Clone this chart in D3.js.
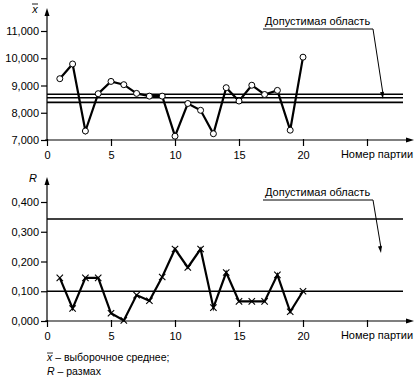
<!DOCTYPE html>
<html>
<head>
<meta charset="utf-8">
<script src="https://cdn.jsdelivr.net/npm/d3@7"></script>
<style>
  body { margin: 0; background: #fff; }
  svg { display: block; font-family: "Liberation Sans", Arial, sans-serif; }
</style>
</head>
<body>
<div id="chart"></div>
<script>
// batch numbers
const batches = [1, 2, 3, 4, 5, 6, 7, 8, 9, 10, 11, 12, 13, 14, 15, 16, 17, 18, 19, 20];
// sample means (x-bar)
const xbarValues = [9.25, 9.79, 7.33, 8.70, 9.15, 9.03, 8.71, 8.61, 8.61, 7.14,
                    8.34, 8.09, 7.23, 8.92, 8.43, 9.01, 8.67, 8.82, 7.36, 10.04];
// ranges (R)
const rangeValues = [0.145, 0.042, 0.145, 0.145, 0.026, 0.002, 0.087, 0.068, 0.148, 0.242,
                     0.180, 0.242, 0.045, 0.163, 0.066, 0.066, 0.066, 0.155, 0.031, 0.100];
const xbarLimits = [8.68, 8.55, 8.38];
const rangeLimits = [0.343, 0.100];
const xbarTicks = [7, 8, 9, 10, 11];
const rangeTicks = [0, 0.1, 0.2, 0.3, 0.4];
const batchTicks = [0, 5, 10, 15, 20, 25];
const batchLabels = ['0', '5', '10', '15', '20', ''];
const xTitle = 'Номер партии';
const zoneLabel = 'Допустимая область';

const W = 420, H = 384;
const fmt = v => d3.format('.3f')(v).replace('.', ',');

const svg = d3.select('#chart').append('svg')
  .attr('width', W).attr('height', H);

const x = d3.scaleLinear().domain([0, 25]).range([47, 367]);

function drawPanel(opt) {
  const g = svg.append('g');
  const y = d3.scaleLinear().domain(opt.domain).range(opt.range);
  const y0 = y(opt.domain[0]);

  // control lines
  g.selectAll('.lim').data(opt.limits).enter().append('line')
    .attr('x1', x(0)).attr('x2', 403)
    .attr('y1', d => y(d)).attr('y2', d => y(d))
    .attr('stroke', '#000').attr('stroke-width', 1.6);

  // y axis
  const ya = g.append('g').attr('transform', `translate(${x(0)},0)`)
    .call(d3.axisLeft(y).tickValues(opt.ticks).tickFormat(fmt).tickSize(6).tickPadding(2));
  ya.select('.domain').remove();
  ya.selectAll('line').attr('stroke-width', 1.2);
  ya.selectAll('text').attr('font-size', 11).attr('fill', '#000')
    .attr('font-family', '"Liberation Sans", Arial, sans-serif');
  g.append('line').attr('x1', x(0)).attr('x2', x(0))
    .attr('y1', y0).attr('y2', opt.top + 5)
    .attr('stroke', '#000').attr('stroke-width', 1.2);
  g.append('path')
    .attr('d', `M${x(0)},${opt.top} L${x(0) - 2.5},${opt.top + 8} L${x(0) + 2.5},${opt.top + 8} Z`)
    .attr('fill', '#000');

  // x axis
  const xa = g.append('g').attr('transform', `translate(0,${y0})`)
    .call(d3.axisBottom(x).tickValues(batchTicks)
      .tickFormat((d, i) => batchLabels[i]).tickSize(6).tickPadding(5));
  xa.select('.domain').remove();
  xa.selectAll('line').attr('stroke-width', 1.2).attr('y1', -1);
  xa.selectAll('text').attr('font-size', 11).attr('fill', '#000')
    .attr('font-family', '"Liberation Sans", Arial, sans-serif');
  g.append('line').attr('x1', x(0) - 2).attr('x2', 408)
    .attr('y1', y0).attr('y2', y0)
    .attr('stroke', '#000').attr('stroke-width', 1.2);
  g.append('path')
    .attr('d', `M414,${y0} L406,${y0 - 2.5} L406,${y0 + 2.5} Z`)
    .attr('fill', '#000');
  g.append('text').attr('x', 377).attr('y', y0 + 18)
    .attr('text-anchor', 'middle').attr('font-size', 11).text(xTitle);

  // y title
  g.append('text').attr('x', opt.titleX).attr('y', opt.top + 5)
    .attr('text-anchor', 'middle').attr('font-size', 11)
    .attr('font-style', 'italic').text(opt.title);
  if (opt.overline) {
    g.append('line').attr('x1', opt.titleX - 3).attr('x2', opt.titleX + 3)
      .attr('y1', opt.top - 4).attr('y2', opt.top - 4)
      .attr('stroke', '#000').attr('stroke-width', 0.9);
  }

  // data line
  const pts = batches.map((b, i) => [b, opt.values[i]]);
  g.append('path').datum(pts)
    .attr('fill', 'none').attr('stroke', '#000').attr('stroke-width', 2.2)
    .attr('stroke-linejoin', 'miter')
    .attr('d', d3.line().x(d => x(d[0])).y(d => y(d[1])));

  if (opt.marker === 'circle') {
    g.selectAll('.pt').data(pts).enter().append('circle')
      .attr('cx', d => x(d[0])).attr('cy', d => y(d[1])).attr('r', 3)
      .attr('fill', '#fff').attr('stroke', '#000').attr('stroke-width', 1);
  } else {
    g.selectAll('.pt').data(pts).enter().append('path')
      .attr('d', d => {
        const cx = x(d[0]), cy = y(d[1]), s = 3.2;
        return `M${cx - s},${cy - s}L${cx + s},${cy + s}M${cx - s},${cy + s}L${cx + s},${cy - s}`;
      })
      .attr('stroke', '#000').attr('stroke-width', 1.1);
  }

  // zone label with leader
  const ly = opt.labelY;
  g.append('text').attr('x', 265).attr('y', ly).attr('font-size', 11).text(zoneLabel);
  g.append('line').attr('x1', 263).attr('x2', 373).attr('y1', ly + 4).attr('y2', ly + 4)
    .attr('stroke', '#000').attr('stroke-width', 1);
  const ex = opt.arrowTo[0], ey = opt.arrowTo[1];
  g.append('line').attr('x1', 373).attr('y1', ly + 4).attr('x2', ex).attr('y2', ey - 5)
    .attr('stroke', '#000').attr('stroke-width', 1);
  const ang = Math.atan2(ey - (ly + 4), ex - 373);
  const hx = ex - 7 * Math.cos(ang), hy = ey - 7 * Math.sin(ang);
  const px = -Math.sin(ang) * 2, py = Math.cos(ang) * 2;
  g.append('path')
    .attr('d', `M${ex},${ey} L${hx + px},${hy + py} L${hx - px},${hy - py} Z`)
    .attr('fill', '#000');
}

drawPanel({
  domain: [7, 11], range: [140, 31], top: 8, ticks: xbarTicks,
  limits: xbarLimits, values: xbarValues, marker: 'circle',
  title: 'x', titleX: 35, overline: true,
  labelY: 25, arrowTo: [383, 99]
});

drawPanel({
  domain: [0, 0.4], range: [321, 202], top: 177, ticks: rangeTicks,
  limits: rangeLimits, values: rangeValues, marker: 'cross',
  title: 'R', titleX: 33, overline: false,
  labelY: 196, arrowTo: [381, 253]
});

// footnote
const foot = svg.append('g').attr('font-size', 10.5);
const f1 = foot.append('text').attr('x', 47).attr('y', 361);
f1.append('tspan').attr('font-style', 'italic').text('x');
f1.append('tspan').text(' – выборочное среднее;');
foot.append('line').attr('x1', 47).attr('x2', 53).attr('y1', 353).attr('y2', 353)
  .attr('stroke', '#000').attr('stroke-width', 0.8);
const f2 = foot.append('text').attr('x', 47).attr('y', 375);
f2.append('tspan').attr('font-style', 'italic').text('R');
f2.append('tspan').text(' – размах');
</script>
</body>
</html>
